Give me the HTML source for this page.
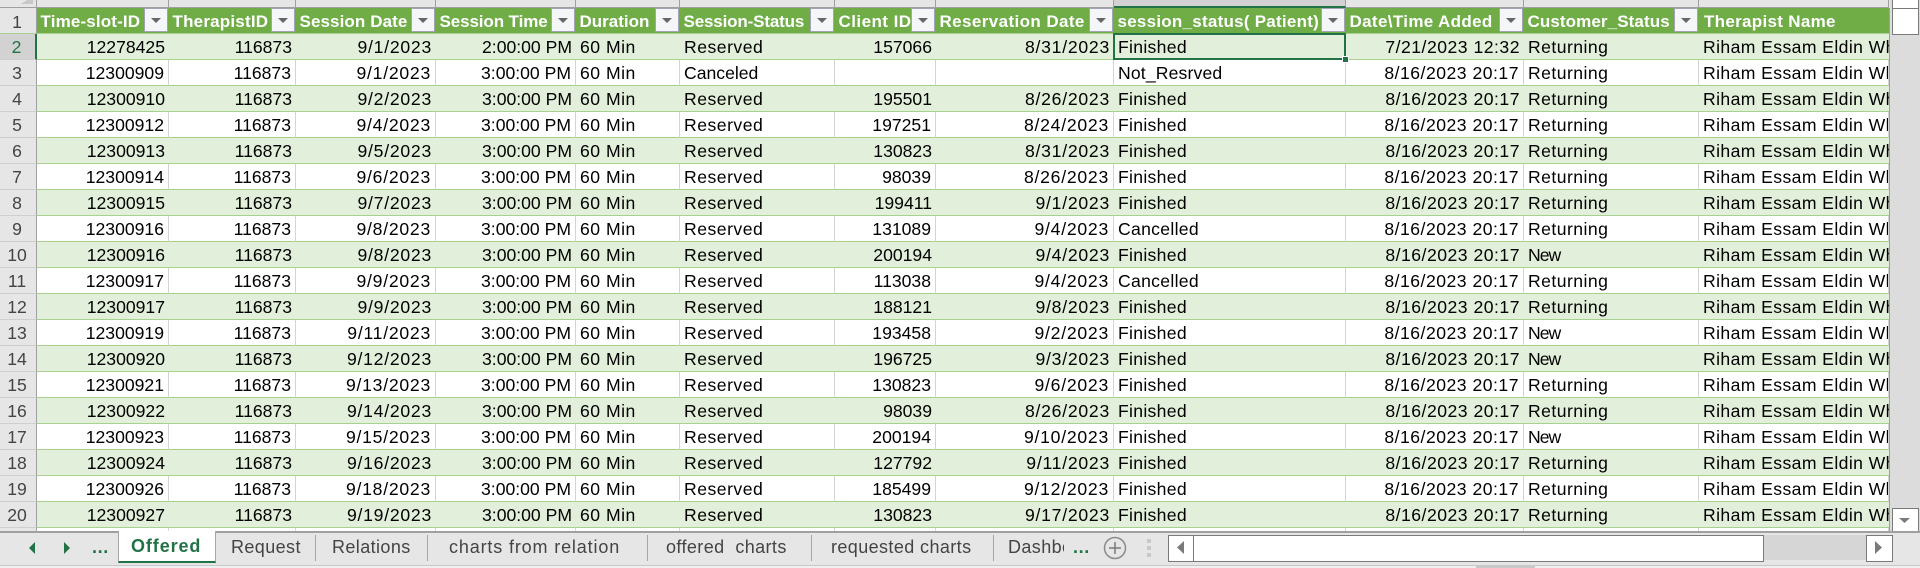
<!DOCTYPE html>
<html lang="en"><head><meta charset="utf-8"><title>Offered sheet</title>
<style>
html,body{margin:0;padding:0;width:1920px;height:568px;overflow:hidden;background:#e6e6e6;font-family:"Liberation Sans",sans-serif}
.abs,.abs *{box-sizing:border-box}
.abs{position:absolute}
#grid{left:0;top:8px;width:1889px;height:523px;overflow:hidden}
table{border-collapse:separate;border-spacing:0;table-layout:fixed;width:1889px}
td{height:26px;padding:1px 0 0;overflow:hidden;white-space:nowrap;font-size:17.6px;line-height:22px;color:#000;border-bottom:1px solid #a9d08e;position:relative;box-sizing:border-box}
tr.w td{background:#fff;border-right:1px solid #d4d4d4}
tr.g td{background:#e2efda}
td.rh{background:#e6e6e6!important;border-right:1px solid #a0a0a0!important;border-bottom:1px solid #cfcfcf;text-align:center;color:#444;padding-right:2px}
td.rs{background:#d2d2d2!important;border-right:2px solid #217346!important;color:#217346}
tr.h td{background:#70ad47;color:#fff;font-weight:bold;font-size:17px;padding-top:2px;padding-left:3.5px;border-bottom:1px solid #a9d08e}
tr.h td.rh{font-weight:normal;font-size:17.6px;color:#444;padding-left:0}
.r{text-align:right;padding-right:4px!important}
.l{padding-left:4px!important}
.da{letter-spacing:.75px}.dm{letter-spacing:.5px}.mn{letter-spacing:.5px}
.rv{letter-spacing:.5px}.fi{letter-spacing:.3px}.cd{letter-spacing:.3px}.ns{letter-spacing:.15px}
.rt{letter-spacing:.45px}.nw{letter-spacing:-1px}.nm{letter-spacing:.4px}
.fb{position:absolute;right:1px;top:0;width:24px;height:24px;background:#f5f6f8;border:1px solid #a3a3b5}
.fb:after{content:"";position:absolute;left:6px;top:9px;border:5px solid transparent;border-top:5px solid #666;border-bottom:0}
.cl{position:absolute;top:0;height:8px;overflow:hidden;background:#e6e6e6;border-right:1px solid #9f9f9f;border-bottom:1px solid #9f9f9f;text-align:center;color:#444;font-size:18px;line-height:18px}
.cl span{position:relative;top:-15px}
.tab{position:absolute;top:532px;height:29px;font-size:18px;line-height:30px;color:#444;white-space:nowrap;overflow:hidden}
.sep{position:absolute;top:535px;height:26px;width:1px;background:#a6a6a6}
.sb{position:absolute;background:#fff;border:1px solid #7a7a7a}
</style></head>
<body>

<div class="abs" style="left:0;top:0;width:1920px;height:8px;background:#e6e6e6">
<div class="abs" style="left:0;top:0;width:37px;height:8px;border-right:1px solid #9f9f9f;border-bottom:1px solid #9f9f9f"><svg width="36" height="7" style="display:block"><polygon points="33,0 33,4 21,4 27,0" fill="#c8c8c8"/></svg></div>
<div class="cl" style="left:37px;width:132px"><span>A</span></div>
<div class="cl" style="left:169px;width:127px"><span>B</span></div>
<div class="cl" style="left:296px;width:140px"><span>C</span></div>
<div class="cl" style="left:436px;width:140px"><span>D</span></div>
<div class="cl" style="left:576px;width:104px"><span>E</span></div>
<div class="cl" style="left:680px;width:155px"><span>F</span></div>
<div class="cl" style="left:835px;width:101px"><span>G</span></div>
<div class="cl" style="left:936px;width:178px"><span>H</span></div>
<div class="cl" style="left:1114px;width:232px;background:#d2d2d2;border-bottom:2px solid #217346;color:#217346"><span>I</span></div>
<div class="cl" style="left:1346px;width:178px"><span>J</span></div>
<div class="cl" style="left:1524px;width:175px"><span>K</span></div>
<div class="cl" style="left:1699px;width:190px"><span>L</span></div>
</div>

<div class="abs" id="grid">
<table>
<colgroup><col style="width:37px"><col style="width:132px"><col style="width:127px"><col style="width:140px"><col style="width:140px"><col style="width:104px"><col style="width:155px"><col style="width:101px"><col style="width:178px"><col style="width:232px"><col style="width:178px"><col style="width:175px"><col style="width:190px"></colgroup>
<tr class="h">
<td class="rh">1</td>
<td style="letter-spacing:.15px">Time-slot-ID<div class="fb"></div></td>
<td style="letter-spacing:.2px">TherapistID<div class="fb"></div></td>
<td style="letter-spacing:.1px">Session Date<div class="fb"></div></td>
<td style="letter-spacing:-.1px">Session Time<div class="fb"></div></td>
<td>Duration<div class="fb"></div></td>
<td style="letter-spacing:-.15px">Session-Status<div class="fb"></div></td>
<td style="letter-spacing:.45px">Client ID<div class="fb"></div></td>
<td style="letter-spacing:.4px">Reservation Date<div class="fb"></div></td>
<td style="letter-spacing:.25px">session_status( Patient)<div class="fb"></div></td>
<td style="letter-spacing:.35px">Date\Time Added<div class="fb"></div></td>
<td style="letter-spacing:.1px">Customer_Status<div class="fb"></div></td>
<td style="letter-spacing:.3px;padding-left:5px">Therapist Name</td>
</tr>
<tr class="g"><td class="rh rs">2</td><td class="r">12278425</td><td class="r">116873</td><td class="r da">9/1/2023</td><td class="r">2:00:00 PM</td><td class="l mn">60 Min</td><td class="l rv">Reserved</td><td class="r">157066</td><td class="r da">8/31/2023</td><td class="l fi">Finished</td><td class="r dm">7/21/2023 12:32</td><td class="l rt">Returning</td><td class="l nm">Riham Essam Eldin Whaby</td></tr>
<tr class="w"><td class="rh">3</td><td class="r">12300909</td><td class="r">116873</td><td class="r da">9/1/2023</td><td class="r">3:00:00 PM</td><td class="l mn">60 Min</td><td class="l">Canceled</td><td class="r"></td><td class="r da"></td><td class="l ns">Not_Resrved</td><td class="r dm">8/16/2023 20:17</td><td class="l rt">Returning</td><td class="l nm">Riham Essam Eldin Whaby</td></tr>
<tr class="g"><td class="rh">4</td><td class="r">12300910</td><td class="r">116873</td><td class="r da">9/2/2023</td><td class="r">3:00:00 PM</td><td class="l mn">60 Min</td><td class="l rv">Reserved</td><td class="r">195501</td><td class="r da">8/26/2023</td><td class="l fi">Finished</td><td class="r dm">8/16/2023 20:17</td><td class="l rt">Returning</td><td class="l nm">Riham Essam Eldin Whaby</td></tr>
<tr class="w"><td class="rh">5</td><td class="r">12300912</td><td class="r">116873</td><td class="r da">9/4/2023</td><td class="r">3:00:00 PM</td><td class="l mn">60 Min</td><td class="l rv">Reserved</td><td class="r">197251</td><td class="r da">8/24/2023</td><td class="l fi">Finished</td><td class="r dm">8/16/2023 20:17</td><td class="l rt">Returning</td><td class="l nm">Riham Essam Eldin Whaby</td></tr>
<tr class="g"><td class="rh">6</td><td class="r">12300913</td><td class="r">116873</td><td class="r da">9/5/2023</td><td class="r">3:00:00 PM</td><td class="l mn">60 Min</td><td class="l rv">Reserved</td><td class="r">130823</td><td class="r da">8/31/2023</td><td class="l fi">Finished</td><td class="r dm">8/16/2023 20:17</td><td class="l rt">Returning</td><td class="l nm">Riham Essam Eldin Whaby</td></tr>
<tr class="w"><td class="rh">7</td><td class="r">12300914</td><td class="r">116873</td><td class="r da">9/6/2023</td><td class="r">3:00:00 PM</td><td class="l mn">60 Min</td><td class="l rv">Reserved</td><td class="r">98039</td><td class="r da">8/26/2023</td><td class="l fi">Finished</td><td class="r dm">8/16/2023 20:17</td><td class="l rt">Returning</td><td class="l nm">Riham Essam Eldin Whaby</td></tr>
<tr class="g"><td class="rh">8</td><td class="r">12300915</td><td class="r">116873</td><td class="r da">9/7/2023</td><td class="r">3:00:00 PM</td><td class="l mn">60 Min</td><td class="l rv">Reserved</td><td class="r">199411</td><td class="r da">9/1/2023</td><td class="l fi">Finished</td><td class="r dm">8/16/2023 20:17</td><td class="l rt">Returning</td><td class="l nm">Riham Essam Eldin Whaby</td></tr>
<tr class="w"><td class="rh">9</td><td class="r">12300916</td><td class="r">116873</td><td class="r da">9/8/2023</td><td class="r">3:00:00 PM</td><td class="l mn">60 Min</td><td class="l rv">Reserved</td><td class="r">131089</td><td class="r da">9/4/2023</td><td class="l cd">Cancelled</td><td class="r dm">8/16/2023 20:17</td><td class="l rt">Returning</td><td class="l nm">Riham Essam Eldin Whaby</td></tr>
<tr class="g"><td class="rh">10</td><td class="r">12300916</td><td class="r">116873</td><td class="r da">9/8/2023</td><td class="r">3:00:00 PM</td><td class="l mn">60 Min</td><td class="l rv">Reserved</td><td class="r">200194</td><td class="r da">9/4/2023</td><td class="l fi">Finished</td><td class="r dm">8/16/2023 20:17</td><td class="l nw">New</td><td class="l nm">Riham Essam Eldin Whaby</td></tr>
<tr class="w"><td class="rh">11</td><td class="r">12300917</td><td class="r">116873</td><td class="r da">9/9/2023</td><td class="r">3:00:00 PM</td><td class="l mn">60 Min</td><td class="l rv">Reserved</td><td class="r">113038</td><td class="r da">9/4/2023</td><td class="l cd">Cancelled</td><td class="r dm">8/16/2023 20:17</td><td class="l rt">Returning</td><td class="l nm">Riham Essam Eldin Whaby</td></tr>
<tr class="g"><td class="rh">12</td><td class="r">12300917</td><td class="r">116873</td><td class="r da">9/9/2023</td><td class="r">3:00:00 PM</td><td class="l mn">60 Min</td><td class="l rv">Reserved</td><td class="r">188121</td><td class="r da">9/8/2023</td><td class="l fi">Finished</td><td class="r dm">8/16/2023 20:17</td><td class="l rt">Returning</td><td class="l nm">Riham Essam Eldin Whaby</td></tr>
<tr class="w"><td class="rh">13</td><td class="r">12300919</td><td class="r">116873</td><td class="r da">9/11/2023</td><td class="r">3:00:00 PM</td><td class="l mn">60 Min</td><td class="l rv">Reserved</td><td class="r">193458</td><td class="r da">9/2/2023</td><td class="l fi">Finished</td><td class="r dm">8/16/2023 20:17</td><td class="l nw">New</td><td class="l nm">Riham Essam Eldin Whaby</td></tr>
<tr class="g"><td class="rh">14</td><td class="r">12300920</td><td class="r">116873</td><td class="r da">9/12/2023</td><td class="r">3:00:00 PM</td><td class="l mn">60 Min</td><td class="l rv">Reserved</td><td class="r">196725</td><td class="r da">9/3/2023</td><td class="l fi">Finished</td><td class="r dm">8/16/2023 20:17</td><td class="l nw">New</td><td class="l nm">Riham Essam Eldin Whaby</td></tr>
<tr class="w"><td class="rh">15</td><td class="r">12300921</td><td class="r">116873</td><td class="r da">9/13/2023</td><td class="r">3:00:00 PM</td><td class="l mn">60 Min</td><td class="l rv">Reserved</td><td class="r">130823</td><td class="r da">9/6/2023</td><td class="l fi">Finished</td><td class="r dm">8/16/2023 20:17</td><td class="l rt">Returning</td><td class="l nm">Riham Essam Eldin Whaby</td></tr>
<tr class="g"><td class="rh">16</td><td class="r">12300922</td><td class="r">116873</td><td class="r da">9/14/2023</td><td class="r">3:00:00 PM</td><td class="l mn">60 Min</td><td class="l rv">Reserved</td><td class="r">98039</td><td class="r da">8/26/2023</td><td class="l fi">Finished</td><td class="r dm">8/16/2023 20:17</td><td class="l rt">Returning</td><td class="l nm">Riham Essam Eldin Whaby</td></tr>
<tr class="w"><td class="rh">17</td><td class="r">12300923</td><td class="r">116873</td><td class="r da">9/15/2023</td><td class="r">3:00:00 PM</td><td class="l mn">60 Min</td><td class="l rv">Reserved</td><td class="r">200194</td><td class="r da">9/10/2023</td><td class="l fi">Finished</td><td class="r dm">8/16/2023 20:17</td><td class="l nw">New</td><td class="l nm">Riham Essam Eldin Whaby</td></tr>
<tr class="g"><td class="rh">18</td><td class="r">12300924</td><td class="r">116873</td><td class="r da">9/16/2023</td><td class="r">3:00:00 PM</td><td class="l mn">60 Min</td><td class="l rv">Reserved</td><td class="r">127792</td><td class="r da">9/11/2023</td><td class="l fi">Finished</td><td class="r dm">8/16/2023 20:17</td><td class="l rt">Returning</td><td class="l nm">Riham Essam Eldin Whaby</td></tr>
<tr class="w"><td class="rh">19</td><td class="r">12300926</td><td class="r">116873</td><td class="r da">9/18/2023</td><td class="r">3:00:00 PM</td><td class="l mn">60 Min</td><td class="l rv">Reserved</td><td class="r">185499</td><td class="r da">9/12/2023</td><td class="l fi">Finished</td><td class="r dm">8/16/2023 20:17</td><td class="l rt">Returning</td><td class="l nm">Riham Essam Eldin Whaby</td></tr>
<tr class="g"><td class="rh">20</td><td class="r">12300927</td><td class="r">116873</td><td class="r da">9/19/2023</td><td class="r">3:00:00 PM</td><td class="l mn">60 Min</td><td class="l rv">Reserved</td><td class="r">130823</td><td class="r da">9/17/2023</td><td class="l fi">Finished</td><td class="r dm">8/16/2023 20:17</td><td class="l rt">Returning</td><td class="l nm">Riham Essam Eldin Whaby</td></tr>
<tr class="w"><td class="rh"></td><td></td><td></td><td></td><td></td><td></td><td></td><td></td><td></td><td></td><td></td><td></td><td></td></tr>
</table>
</div>

<div class="abs" style="left:1113px;top:33px;width:233px;height:27px;border:2px solid #217346"></div>
<div class="abs" style="left:1342px;top:56px;width:7px;height:7px;background:#217346;border:1px solid #fff"></div>

<div class="abs" style="left:1889px;top:8px;width:1px;height:524px;background:#a0a0a0"></div>
<div class="abs" style="left:1890px;top:0;width:30px;height:532px;background:#dcdcdc"></div>
<div class="sb" style="left:1892px;top:-4px;width:25px;height:11px"></div>
<div class="sb" style="left:1892px;top:8px;width:25px;height:25px"></div>
<div class="sb" style="left:1892px;top:508px;width:25px;height:24px"><svg width="23" height="22" style="display:block"><polygon points="6,9 17,9 11.5,14" fill="#7a7a7a"/></svg></div>

<div class="abs" style="left:0;top:531px;width:1920px;height:37px;background:#e6e6e6;border-top:2px solid #a0a0a0"></div>
<div class="abs" style="left:0;top:565px;width:1920px;height:3px;background:#f0f0f0;border-top:1px solid #c8c8c8"></div>
<div class="abs" style="left:1476px;top:565px;width:59px;height:3px;background:#c8c8c8"></div>

<svg class="abs" style="left:27px;top:541px" width="10" height="14"><polygon points="8,1 8,13 2,7" fill="#217346"/></svg>
<svg class="abs" style="left:62px;top:541px" width="10" height="14"><polygon points="2,1 2,13 8,7" fill="#217346"/></svg>
<div class="tab" style="left:92px;color:#217346;font-weight:bold;letter-spacing:.6px">...</div>

<div class="abs" style="left:118px;top:531px;width:98px;height:32px;background:#fff;border-left:1px solid #a6a6a6;border-right:1px solid #a6a6a6;border-bottom:2px solid #217346;color:#217346;font-weight:bold;font-size:18px;line-height:31px;padding-left:12px;letter-spacing:.9px">Offered</div>
<div class="tab" style="left:231px;letter-spacing:.4px">Request</div>
<div class="sep" style="left:315px"></div>
<div class="tab" style="left:332px;letter-spacing:.4px">Relations</div>
<div class="sep" style="left:427px"></div>
<div class="tab" style="left:449px;letter-spacing:.85px">charts from relation</div>
<div class="sep" style="left:647px"></div>
<div class="tab" style="left:666px;letter-spacing:.4px;white-space:pre">offered  charts</div>
<div class="sep" style="left:811px"></div>
<div class="tab" style="left:831px;letter-spacing:.4px">requested charts</div>
<div class="sep" style="left:993px"></div>
<div class="tab" style="left:1008px;width:56px;letter-spacing:.4px">Dashboard</div>
<div class="tab" style="left:1073px;color:#217346;font-weight:bold;letter-spacing:.6px">...</div>
<svg class="abs" style="left:1102px;top:535px" width="26" height="26"><circle cx="13" cy="13" r="10.5" fill="none" stroke="#8a8a8a" stroke-width="1.5"/><path d="M13 7V19M7 13H19" stroke="#7a7a7a" stroke-width="1.5"/></svg>
<svg class="abs" style="left:1146px;top:538px" width="8" height="20"><rect x="1" y="1" width="4" height="4" fill="#c8c8c8"/><rect x="1" y="8" width="4" height="4" fill="#c8c8c8"/><rect x="1" y="15" width="4" height="4" fill="#c8c8c8"/></svg>

<div class="abs" style="left:1168px;top:535px;width:722px;height:25px;background:#d6d6d6"></div>
<div class="sb" style="left:1168px;top:535px;width:26px;height:25px"><svg width="24" height="23" style="display:block"><polygon points="15,5 15,18 8,11.5" fill="#7a7a7a"/></svg></div>
<div class="sb" style="left:1193px;top:535px;width:569px;height:25px"></div>
<div class="sb" style="left:1866px;top:535px;width:25px;height:25px"><svg width="23" height="23" style="display:block"><polygon points="8,5 8,18 15,11.5" fill="#7a7a7a"/></svg></div>
</body></html>
